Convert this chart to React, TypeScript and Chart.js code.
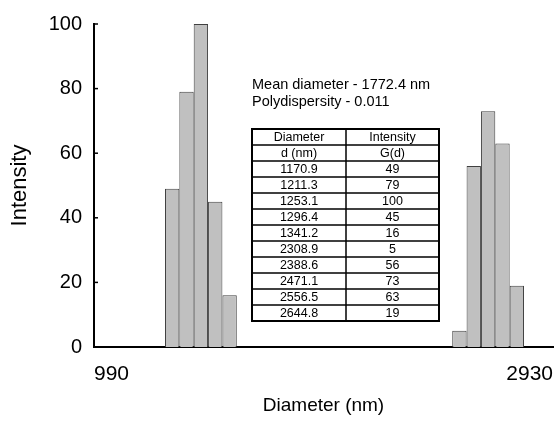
import React, { useEffect, useRef } from 'react';
import { Chart, registerables } from 'chart.js';

Chart.register(...registerables);

// ---- data ----
const diameters = [1170.9, 1211.3, 1253.1, 1296.4, 1341.2, 2308.9, 2388.6, 2471.1, 2556.5, 2644.8];
const intensities = [49, 79, 100, 45, 16, 5, 56, 73, 63, 19];
const xTickValues = [990, 2930];
const yTickValues = [0, 20, 40, 60, 80, 100];
const summaryLines = ['Mean diameter - 1772.4 nm', 'Polydispersity - 0.011'];
const tableHeaderTop = ['Diameter', 'Intensity'];
const tableHeaderSub = ['d (nm)', 'G(d)'];
const xTitle = 'Diameter (nm)';
const yTitle = 'Intensity';

const FONT = '"Liberation Sans", Arial, Helvetica, sans-serif';

const innerTicksPlugin = {
  id: 'innerTicks',
  afterDraw(chart: any) {
    const { ctx, chartArea, scales } = chart;
    const y = scales.y;
    ctx.save();
    ctx.strokeStyle = '#000';
    ctx.lineWidth = 1.5;
    yTickValues.forEach((v) => {
      const py = y.getPixelForValue(v);
      ctx.beginPath();
      ctx.moveTo(chartArea.left, py);
      ctx.lineTo(chartArea.left + 4, py);
      ctx.stroke();
    });
    ctx.restore();
  },
};

const tablePlugin = {
  id: 'summaryTable',
  afterDraw(chart: any) {
    const { ctx } = chart;
    const left = 252;
    const right = 439;
    const mid = 346;
    const top = 129;
    const rowH = 16;
    ctx.save();
    // summary text
    ctx.fillStyle = '#000';
    ctx.font = `14.5px ${FONT}`;
    ctx.textAlign = 'left';
    ctx.textBaseline = 'middle';
    summaryLines.forEach((line, i) => {
      ctx.fillText(line, left, 85 + i * 17);
    });
    // table rows
    const rows: string[][] = [tableHeaderTop, tableHeaderSub];
    diameters.forEach((d, i) => rows.push([d.toFixed(1), String(intensities[i])]));
    const bottom = top + rows.length * rowH;
    ctx.strokeStyle = '#000';
    ctx.lineWidth = 1.5;
    for (let i = 1; i < rows.length; i++) {
      const yy = top + i * rowH;
      ctx.beginPath();
      ctx.moveTo(left, yy);
      ctx.lineTo(right, yy);
      ctx.stroke();
    }
    ctx.beginPath();
    ctx.moveTo(mid, top);
    ctx.lineTo(mid, bottom);
    ctx.stroke();
    ctx.lineWidth = 2;
    ctx.strokeRect(left, top, right - left, bottom - top);
    ctx.font = `12.5px ${FONT}`;
    ctx.textAlign = 'center';
    rows.forEach((r, i) => {
      const cy = top + i * rowH + rowH / 2 + 0.5;
      ctx.fillText(r[0], (left + mid) / 2, cy);
      ctx.fillText(r[1], (mid + right) / 2, cy);
    });
    ctx.restore();
  },
};

export default function App() {
  const ref = useRef<HTMLCanvasElement | null>(null);
  useEffect(() => {
    document.body.style.margin = '0';
    const canvas = ref.current;
    if (!canvas) return;
    const chart = new Chart(canvas, {
      type: 'bar',
      data: {
        datasets: [
          {
            // alignment spacer so each bar starts at its diameter value
            label: 'spacer',
            data: diameters.map((x) => ({ x, y: null })),
            backgroundColor: 'rgba(0,0,0,0)',
            borderWidth: 0,
          },
          {
            label: 'G(d)',
            data: diameters.map((x, i) => ({ x, y: intensities[i] })),
            backgroundColor: '#c0c0c0',
            borderColor: '#404040',
            borderWidth: 1,
          },
        ] as any,
      },
      options: {
        responsive: false,
        animation: false,
        events: [],
        categoryPercentage: 2,
        barPercentage: 1,
        layout: { padding: { top: 24, right: 5, left: 0, bottom: 0 } },
        plugins: { legend: { display: false }, tooltip: { enabled: false } },
        scales: {
          x: {
            type: 'logarithmic',
            min: 990,
            max: 2930,
            grid: { display: false, drawTicks: false },
            border: { display: true, color: '#000', width: 2 },
            afterBuildTicks: (s: any) => {
              s.ticks = xTickValues.map((v) => ({ value: v }));
            },
            afterFit: (s: any) => {
              s.height = 80;
              s.paddingLeft = 0;
              s.paddingRight = 0;
            },
            ticks: {
              align: 'inner',
              autoSkip: false,
              maxRotation: 0,
              padding: 15,
              color: '#000',
              font: { family: FONT, size: 21 },
              callback: (v: any) => String(v),
            },
            title: {
              display: true,
              text: xTitle,
              color: '#000',
              font: { family: FONT, size: 19 },
              padding: { top: 0, bottom: 10 },
            },
          },
          y: {
            type: 'linear',
            min: 0,
            max: 100,
            grid: { display: false, drawTicks: false },
            border: { display: true, color: '#000', width: 2 },
            afterBuildTicks: (s: any) => {
              s.ticks = yTickValues.map((v) => ({ value: v }));
            },
            afterFit: (s: any) => {
              s.width = 94;
            },
            ticks: {
              padding: 12,
              color: '#000',
              font: { family: FONT, size: 20 },
            },
            title: {
              display: true,
              text: yTitle,
              color: '#000',
              font: { family: FONT, size: 22 },
              padding: { top: 7, bottom: 0 },
            },
          },
        },
      } as any,
      plugins: [innerTicksPlugin, tablePlugin],
    });
    return () => chart.destroy();
  }, []);
  return (
    <div style={{ width: 558, height: 427 }}>
      <canvas ref={ref} width={558} height={427} />
    </div>
  );
}
